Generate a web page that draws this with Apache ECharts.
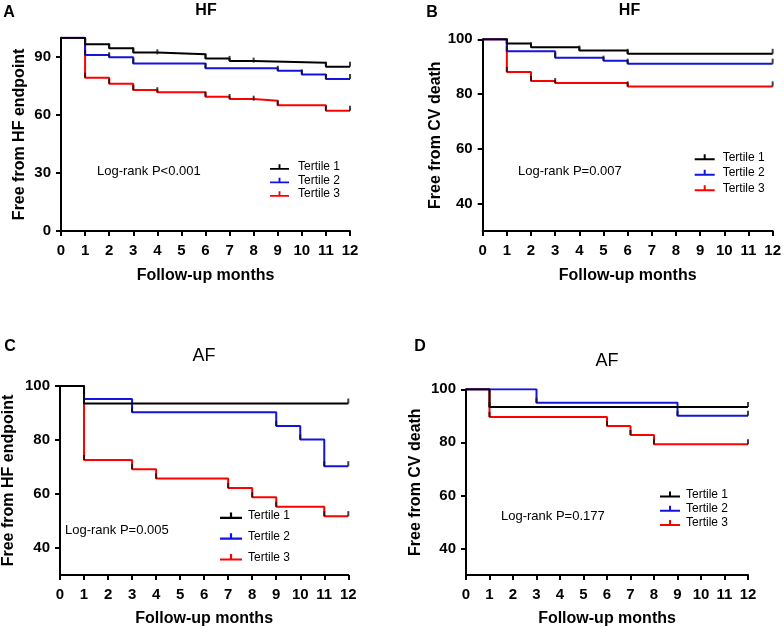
<!DOCTYPE html>
<html>
<head>
<meta charset="utf-8">
<script src="https://cdn.jsdelivr.net/npm/echarts@6/dist/echarts.min.js"></script>
<style>
  html, body { margin: 0; padding: 0; background: #fff; }
  #chart { width: 784px; height: 628px; }
</style>
</head>
<body>
<div id="chart"></div>
<script>
// months and survival (%), one pair per tertile
// A: HF, free from HF endpoint
const aTime1 = [0, 1, 2, 3, 4, 6, 7, 8, 11, 12];
const aSurv1 = [100, 96.6, 94.5, 92.4, 91.4, 89.2, 88.0, 87.1, 85.0, 85.0];
const aTime2 = [0, 1, 2, 3, 6, 9, 10, 11, 12];
const aSurv2 = [100, 91.0, 89.9, 86.6, 84.2, 82.9, 81.0, 78.6, 78.6];
const aTime3 = [0, 1, 2, 3, 4, 6, 7, 8, 9, 11, 12];
const aSurv3 = [100, 79.3, 76.2, 72.9, 71.8, 69.5, 68.3, 67.4, 65.0, 62.2, 62.2];
// B: HF, free from CV death
const bTime1 = [0, 1, 2, 4, 6, 12];
const bSurv1 = [100, 98.5, 97.1, 95.9, 94.7, 94.7];
const bTime2 = [0, 1, 3, 5, 6, 12];
const bSurv2 = [100, 95.6, 93.3, 92.2, 91.1, 91.1];
const bTime3 = [0, 1, 2, 3, 6, 12];
const bSurv3 = [100, 88.1, 84.8, 84.0, 82.8, 82.8];
// C: AF, free from HF endpoint
const cTime1 = [0, 1, 12];
const cSurv1 = [100, 93.5, 93.5];
const cTime2 = [0, 1, 3, 9, 10, 11, 12];
const cSurv2 = [100, 95.2, 90.3, 85.2, 80.2, 70.3, 70.3];
const cTime3 = [0, 1, 3, 4, 7, 8, 9, 11, 12];
const cSurv3 = [100, 72.6, 69.2, 65.7, 62.2, 58.8, 55.3, 51.8, 51.8];
// D: AF, free from CV death
const dTime1 = [0, 1, 12];
const dSurv1 = [100, 93.3, 93.3];
const dTime2 = [0, 3, 9, 12];
const dSurv2 = [100, 94.9, 90.0, 90.0];
const dTime3 = [0, 1, 6, 7, 8, 12];
const dSurv3 = [100, 89.6, 86.2, 82.8, 79.3, 79.3];

const groups = ['Tertile 1', 'Tertile 2', 'Tertile 3'];
const colors = ['#000000', '#1414e0', '#ff0000'];
const yTicksA = [0, 30, 60, 90];
const yTicksB = [40, 60, 80, 100];
const xMonths = [0, 12];
const pValues = ['Log-rank P<0.001', 'Log-rank P=0.007', 'Log-rank P=0.005', 'Log-rank P=0.177'];

const FONT = '"Liberation Sans", Arial, sans-serif';

const panels = [
  { grid: { left: 61, top: 37.7, width: 289, height: 193.3 }, yMin: 0, ticks: yTicksA,
    yName: 'Free from HF endpoint', yGap: 33, xGap: 37,
    curves: [[aTime1, aSurv1], [aTime2, aSurv2], [aTime3, aSurv3]],
    legend: { left: 265, top: 156, gap: 1.5, w: 19, pad: 4 } },
  { grid: { left: 482.7, top: 39.3, width: 291.6, height: 191.7 }, yMin: 30, ticks: yTicksB,
    yName: 'Free from CV death', yGap: 35, xGap: 37,
    curves: [[bTime1, bSurv1], [bTime2, bSurv2], [bTime3, bSurv3]],
    legend: { left: 689.7, top: 146.2, gap: 3.5, w: 20, pad: 3 } },
  { grid: { left: 59, top: 386, width: 289.3, height: 189.3 }, yMin: 30, ticks: yTicksB,
    yName: 'Free from HF endpoint', yGap: 43, xGap: 36,
    curves: [[cTime1, cSurv1], [cTime2, cSurv2], [cTime3, cSurv3]],
    legend: { left: 215, top: 504.7, gap: 8.8, w: 22, pad: 1 } },
  { grid: { left: 466, top: 389.3, width: 282, height: 185.7 }, yMin: 30, ticks: yTicksB,
    yName: 'Free from CV death', yGap: 42, xGap: 36,
    curves: [[dTime1, dSurv1], [dTime2, dSurv2], [dTime3, dSurv3]],
    legend: { left: 655, top: 483.5, gap: 2.2, w: 20, pad: 1 } }
];

const axisLine = { lineStyle: { color: '#000', width: 2 } };
const axisTick = { length: 5, lineStyle: { color: '#000', width: 2 } };
const tickFont = { color: '#000', fontSize: 15, fontWeight: 'bold', fontFamily: FONT };
const nameFont = { color: '#000', fontSize: 16, fontWeight: 'bold', fontFamily: FONT };

const grid = [], xAxis = [], yAxis = [], series = [], legend = [];
panels.forEach((p, i) => {
  grid.push(p.grid);
  xAxis.push({
    gridIndex: i, type: 'value', min: xMonths[0], max: xMonths[1], interval: 1,
    name: 'Follow-up months', nameLocation: 'middle', nameGap: p.xGap, nameTextStyle: nameFont,
    axisLine, axisTick, splitLine: { show: false },
    axisLabel: Object.assign({ margin: 12 }, tickFont)
  });
  yAxis.push({
    gridIndex: i, type: 'value', min: p.yMin, max: 100,
    name: p.yName, nameLocation: 'middle', nameGap: p.yGap, nameTextStyle: nameFont,
    axisLine: Object.assign({ onZero: false }, axisLine),
    axisTick: Object.assign({ customValues: p.ticks }, axisTick),
    splitLine: { show: false },
    axisLabel: Object.assign({ margin: 10, customValues: p.ticks }, tickFont)
  });
  // draw tertile 3 first so black sits on top
  for (let k = 2; k >= 0; k--) {
    const [t, s] = p.curves[k];
    series.push({
      name: groups[k], type: 'line', step: 'end', xAxisIndex: i, yAxisIndex: i,
      data: t.map((m, j) => [m, s[j]]),
      showSymbol: false, color: colors[k],
      lineStyle: { color: colors[k], width: 2 }, animation: false
    });
    // censor ticks at each event month and at the end
    series.push({
      name: 'censor', type: 'scatter', xAxisIndex: i, yAxisIndex: i,
      data: t.filter(m => m > 0).map(m => [m, s[t.indexOf(m)]]),
      symbol: 'rect', symbolSize: [2, 5], symbolOffset: [0, -2.5],
      itemStyle: { color: '#111' }, silent: true, animation: false, z: 3
    });
  }
  legend.push({
    data: groups, orient: 'vertical', left: p.legend.left, top: p.legend.top,
    itemGap: p.legend.gap, itemWidth: p.legend.w, itemHeight: 8,
    icon: 'path://M0,5H20V7H0Z M9,1H11V5H9Z', selectedMode: false,
    textStyle: { color: '#000', fontSize: 12, fontFamily: FONT, padding: [0, 0, 0, p.legend.pad] }
  });
});

function label(x, y, text, size, weight, align) {
  return {
    type: 'text', x, y, silent: true,
    style: { text, fill: '#000', fontSize: size, fontWeight: weight, fontFamily: FONT,
      textAlign: align, align, textVerticalAlign: 'middle', verticalAlign: 'middle' }
  };
}

const graphic = [
  label(9, 13, 'A', 16, 'bold', 'center'),
  label(432, 13, 'B', 16, 'bold', 'center'),
  label(10, 347, 'C', 16, 'bold', 'center'),
  label(420, 347, 'D', 16, 'bold', 'center'),
  label(206, 11, 'HF', 16, 'bold', 'center'),
  label(629.5, 11, 'HF', 16, 'bold', 'center'),
  label(204, 356.5, 'AF', 18, 'normal', 'center'),
  label(607, 361, 'AF', 18, 'normal', 'center'),
  label(97, 171, pValues[0], 13, 'normal', 'left'),
  label(518, 171.7, pValues[1], 13, 'normal', 'left'),
  label(65, 530.7, pValues[2], 13, 'normal', 'left'),
  label(501, 516.7, pValues[3], 13, 'normal', 'left')
];

const chart = echarts.init(document.getElementById('chart'));
chart.setOption({
  animation: false,
  backgroundColor: '#fff',
  grid, xAxis, yAxis, series, legend, graphic
});
</script>
</body>
</html>
